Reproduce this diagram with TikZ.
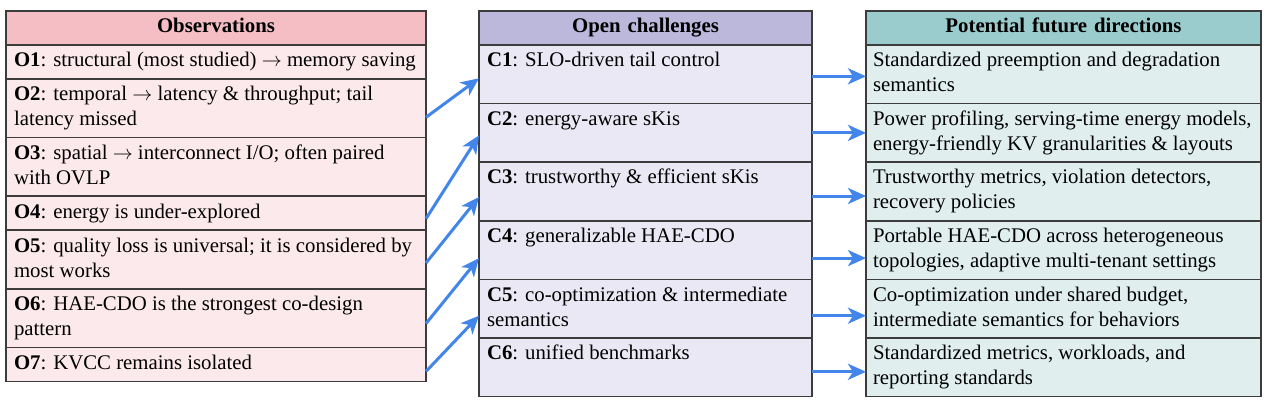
\documentclass[tikz,border=0pt]{standalone}
\usepackage{fontspec}
\setmainfont{Liberation Serif}
\usepackage{tikz}
\usetikzlibrary{positioning,arrows.meta}

\definecolor{obshead}{RGB}{244,190,196}
\definecolor{obsrow}{RGB}{252,233,236}
\definecolor{chalhead}{RGB}{187,184,220}
\definecolor{chalrow}{RGB}{233,232,244}
\definecolor{dirhead}{RGB}{155,204,205}
\definecolor{dirrow}{RGB}{224,238,238}
\definecolor{linkblue}{RGB}{66,133,235}
\definecolor{rulegray}{RGB}{60,60,60}

\newcommand{\cellfont}{\fontsize{10.4}{12.5}\selectfont}
\newcommand{\givesarrow}{$\rightarrow$}

\begin{document}
\begin{tikzpicture}[
        font=\cellfont,
        cell/.style={draw=rulegray, line width=0.75pt, outer sep=0pt,
            inner xsep=4pt, inner ysep=2pt, align=flush left, minimum height=17pt},
        tall/.style={minimum height=29.3pt},
        headcell/.style={cell, align=center, font=\cellfont\bfseries},
        obscell/.style={cell, fill=obsrow, text width=202pt},
        chalcell/.style={cell, fill=chalrow, text width=158.5pt},
        dircell/.style={cell, fill=dirrow, text width=190.5pt, inner xsep=3.5pt},
        link/.style={draw=linkblue, line width=1.5pt,
            -{Stealth[length=9pt,width=8pt,inset=2.5pt]}},
    ]
        % Fixes the page to the size of the figure
        \useasboundingbox (0,0) rectangle (634pt,-200.5pt);

        % Observations column
        \node[headcell, fill=obshead, text width=202pt, anchor=north west] (ohead) at (3pt,-5.5pt) {\strut Observations};
        \node[obscell, below=0pt of ohead] (o1) {\strut\textbf{O1}: structural (most studied) \givesarrow{} memory saving\strut};
        \node[obscell, tall, below=0pt of o1] (o2) {\strut\textbf{O2}: temporal \givesarrow{} latency \& throughput; tail\\latency missed\strut};
        \node[obscell, tall, below=0pt of o2] (o3) {\strut\textbf{O3}: spatial \givesarrow{} interconnect I/O; often paired\\with OVLP\strut};
        \node[obscell, below=0pt of o3] (o4) {\strut\textbf{O4}: energy is under-explored\strut};
        \node[obscell, tall, below=0pt of o4] (o5) {\strut\textbf{O5}: quality loss is universal; it is considered by\\most works\strut};
        \node[obscell, tall, below=0pt of o5] (o6) {\strut\textbf{O6}: HAE-CDO is the strongest co-design\\pattern\strut};
        \node[obscell, below=0pt of o6] (o7) {\strut\textbf{O7}: KVCC remains isolated\strut};

        % Open challenges column
        \node[headcell, fill=chalhead, text width=158.5pt, anchor=north west] (chead) at (239.5pt,-5.5pt) {\strut Open challenges};
        \node[chalcell, tall, below=0pt of chead] (c1) {\strut\textbf{C1}: SLO-driven tail control\\\strut};
        \node[chalcell, tall, below=0pt of c1] (c2) {\strut\textbf{C2}: energy-aware sKis\\\strut};
        \node[chalcell, tall, below=0pt of c2] (c3) {\strut\textbf{C3}: trustworthy \& efficient sKis\\\strut};
        \node[chalcell, tall, below=0pt of c3] (c4) {\strut\textbf{C4}: generalizable HAE-CDO\\\strut};
        \node[chalcell, tall, below=0pt of c4] (c5) {\strut\textbf{C5}: co-optimization \& intermediate\\semantics\strut};
        \node[chalcell, tall, below=0pt of c5] (c6) {\strut\textbf{C6}: unified benchmarks\\\strut};

        % Potential future directions column
        \node[headcell, fill=dirhead, text width=190.5pt, inner xsep=3.5pt, anchor=north west] (dhead) at (433pt,-5.5pt) {\strut Potential future directions};
        \node[dircell, tall, below=0pt of dhead] (d1) {\strut Standardized preemption and degradation\\semantics\strut};
        \node[dircell, tall, below=0pt of d1] (d2) {\strut Power profiling, serving-time energy models,\\energy-friendly KV granularities \& layouts\strut};
        \node[dircell, tall, below=0pt of d2] (d3) {\strut Trustworthy metrics, violation detectors,\\recovery policies\strut};
        \node[dircell, tall, below=0pt of d3] (d4) {\strut Portable HAE-CDO across heterogeneous\\topologies, adaptive multi-tenant settings\strut};
        \node[dircell, tall, below=0pt of d4] (d5) {\strut Co-optimization under shared budget,\\intermediate semantics for behaviors\strut};
        \node[dircell, tall, below=0pt of d5] (d6) {\strut Standardized metrics, workloads, and\\reporting standards\strut};

        % Observations to challenges
        \draw[link] ([yshift=-4.5pt]o2.east) -- ([yshift=-2pt]c1.west);
        \draw[link] ([yshift=-2.75pt]o4.east) -- ([yshift=-1.25pt]c2.west);
        \draw[link] ([yshift=-1.75pt]o5.east) -- ([yshift=-2.75pt]c3.west);
        \draw[link] ([yshift=-2.75pt]o6.east) -- ([yshift=-4pt]c4.west);
        \draw[link] ([yshift=-3.5pt]o7.east) -- ([yshift=-3.5pt]c5.west);

        % Challenges to directions
        \draw[link] ([yshift=-1pt]c1.east) -- ([yshift=-1pt]d1.west);
        \draw[link] (c2.east) -- (d2.west);
        \draw[link] ([yshift=-2.25pt]c3.east) -- ([yshift=-2.25pt]d3.west);
        \draw[link] ([yshift=-4pt]c4.east) -- ([yshift=-4pt]d4.west);
        \draw[link] ([yshift=-3.5pt]c5.east) -- ([yshift=-3.5pt]d5.west);
        \draw[link] ([yshift=-2.25pt]c6.east) -- ([yshift=-2.25pt]d6.west);
\end{tikzpicture}
\end{document}
